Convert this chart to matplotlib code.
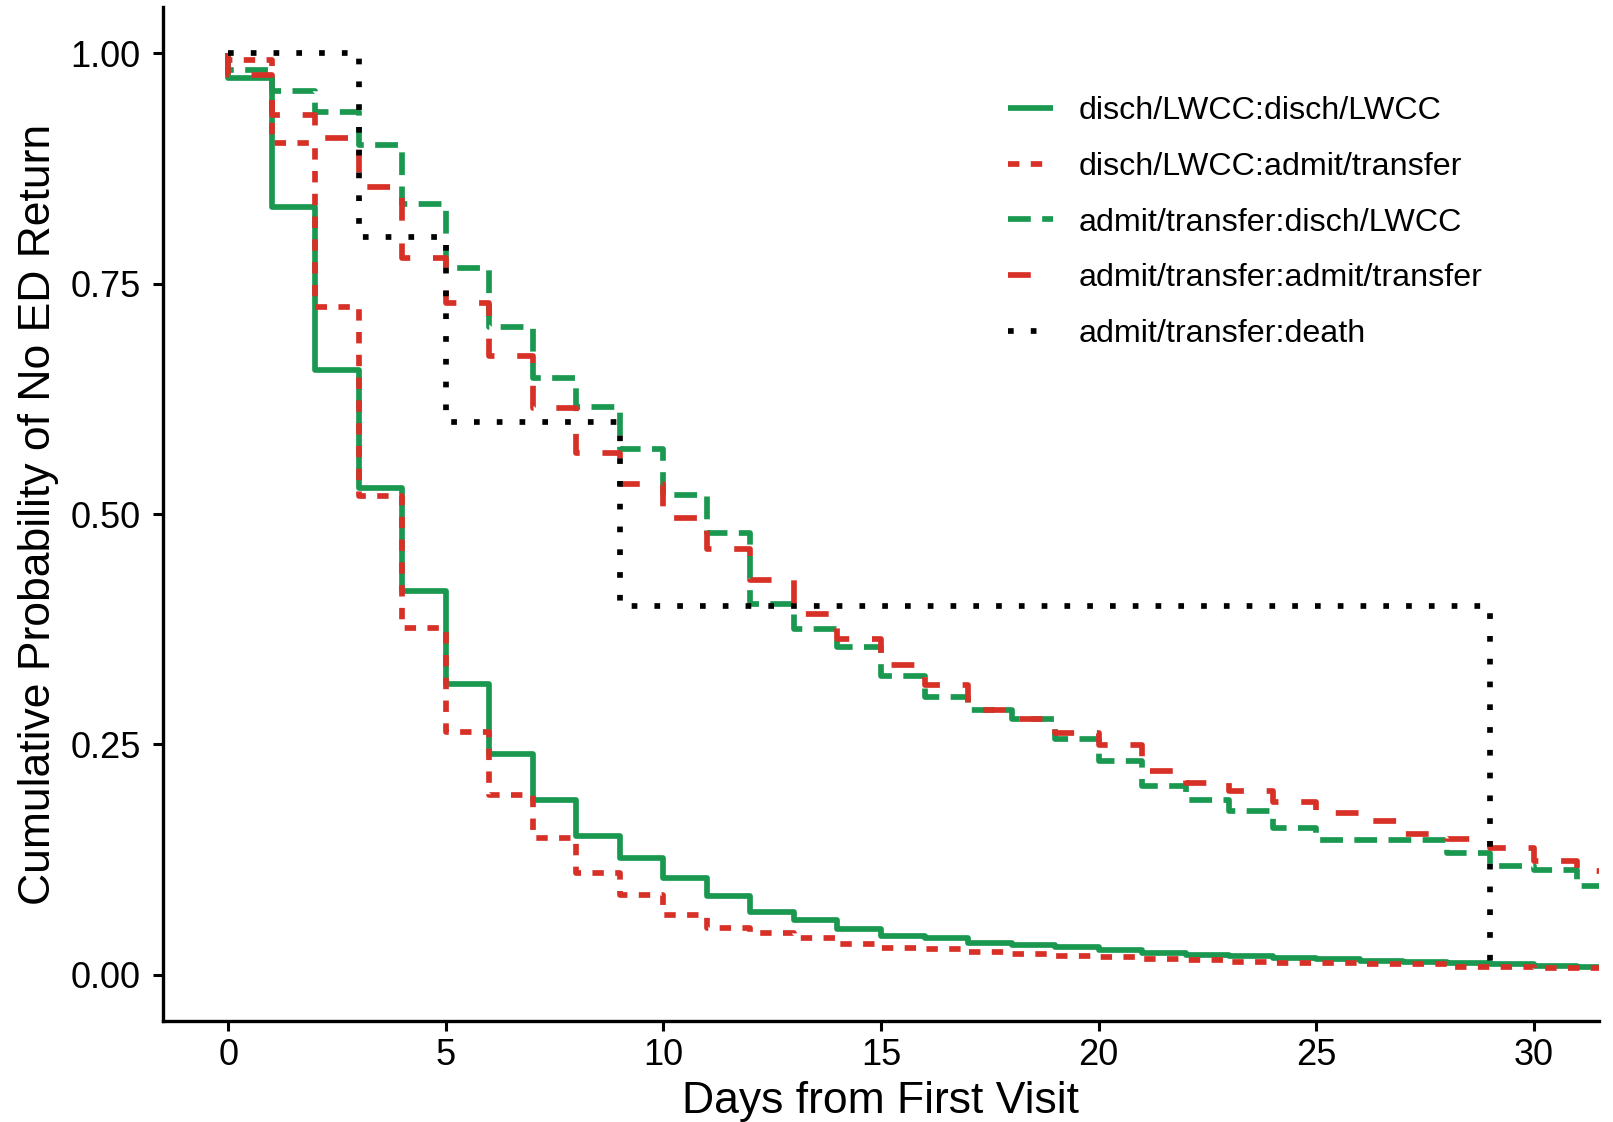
import numpy as np
import matplotlib
matplotlib.use("Agg")
import matplotlib.pyplot as plt

plt.rcParams['font.family'] = ['Liberation Sans', 'DejaVu Sans']

# ---- data ----
days = list(range(32))

disch_disch = [0.973, 0.833, 0.656, 0.528, 0.416, 0.316, 0.240, 0.190, 0.151, 0.1265,
               0.1056, 0.086, 0.068, 0.060, 0.050, 0.042, 0.040, 0.0344, 0.0325, 0.030,
               0.027, 0.0235, 0.0217, 0.020, 0.018, 0.017, 0.0155, 0.014, 0.0134, 0.012,
               0.010, 0.009]

disch_admit = [0.992, 0.902, 0.725, 0.519, 0.376, 0.264, 0.195, 0.148, 0.111, 0.087,
               0.065, 0.051, 0.045, 0.040, 0.033, 0.029, 0.0285, 0.025, 0.0224, 0.021,
               0.0195, 0.017, 0.016, 0.0145, 0.013, 0.0128, 0.012, 0.0115, 0.009, 0.0085,
               0.008, 0.0075]

admit_disch = [0.982, 0.959, 0.936, 0.900, 0.836, 0.767, 0.703, 0.648, 0.616, 0.571,
               0.521, 0.479, 0.402, 0.375, 0.356, 0.324, 0.301, 0.287, 0.278, 0.2556,
               0.232, 0.205, 0.190, 0.178, 0.159, 0.146, 0.146, 0.146, 0.132, 0.118,
               0.114, 0.096]

admit_admit = [0.976, 0.933, 0.9075, 0.855, 0.778, 0.7285, 0.671, 0.6155, 0.566, 0.533,
               0.496, 0.462, 0.428, 0.391, 0.364, 0.336, 0.3145, 0.287, 0.278, 0.262,
               0.2495, 0.221, 0.2086, 0.200, 0.188, 0.176, 0.1674, 0.1526, 0.1475, 0.1374,
               0.124, 0.113]

death_days = [0, 3, 5, 9, 29]
death_surv = [1.0, 0.80, 0.60, 0.40, 0.013]

labels = ["disch/LWCC:disch/LWCC", "disch/LWCC:admit/transfer",
          "admit/transfer:disch/LWCC", "admit/transfer:admit/transfer",
          "admit/transfer:death"]
colors = ["#1A9850", "#D73027", "#1A9850", "#D73027", "#000000"]
styles = ["-", (0, (2, 2)), (0, (4, 2)), (0, (4, 4)), (0, (1, 3))]

x_ticks = [0, 5, 10, 15, 20, 25, 30]
y_ticks = [0.0, 0.25, 0.50, 0.75, 1.00]
y_ticklabels = ["0.00", "0.25", "0.50", "0.75", "1.00"]

# ---- figure ----
W, H = 1613, 1122
fig = plt.figure(figsize=(W / 100, H / 100), dpi=100)
ax = fig.add_axes([163 / W, 1 - 1021 / H, (1599 - 163) / W, (1021 - 7) / H])

LW = 4.1
series = [disch_disch, disch_admit, admit_disch, admit_admit]
handles = []
for vals, col, ls, lab in zip(series, colors[:4], styles[:4], labels[:4]):
    x = np.r_[0, days, days[-1] + 1]
    y = np.r_[1.0, vals, vals[-1]]
    ln, = ax.step(x, y, where='post', color=col, linestyle=ls, linewidth=LW,
                  solid_capstyle='butt', dash_capstyle='butt',
                  solid_joinstyle='round', dash_joinstyle='round', label=lab)
    handles.append(ln)
ln, = ax.step(death_days, death_surv, where='post', color=colors[4], linestyle=styles[4],
              linewidth=LW, dash_capstyle='butt', label=labels[4])
handles.append(ln)

ax.set_xlim(-1.5, 31.5)
ax.set_ylim(-0.05, 1.05)
ax.set_xticks(x_ticks)
ax.set_yticks(y_ticks)
ax.set_yticklabels(y_ticklabels)

for s in ['top', 'right']:
    ax.spines[s].set_visible(False)
for s in ['left', 'bottom']:
    ax.spines[s].set_linewidth(2.4)
    ax.spines[s].set_color('black')

ax.tick_params(axis='both', which='major', length=7, width=2.2, color='black',
               labelsize=26, labelcolor='black')
ax.tick_params(axis='y', pad=9)
ax.tick_params(axis='x', pad=5)

ax.set_xlabel("Days from First Visit", fontsize=32, labelpad=6)
ax.set_ylabel("Cumulative Probability of No ED Return", fontsize=32, labelpad=8)

leg = ax.legend(handles=handles, labels=labels, loc='upper left',
                bbox_to_anchor=(1008 / W, 1 - 96 / H), bbox_transform=fig.transFigure,
                frameon=False, fontsize=23.2, handlelength=1.4, handletextpad=0.8,
                labelspacing=0.8, borderpad=0, borderaxespad=0)

fig.savefig("out.png", dpi=100)
